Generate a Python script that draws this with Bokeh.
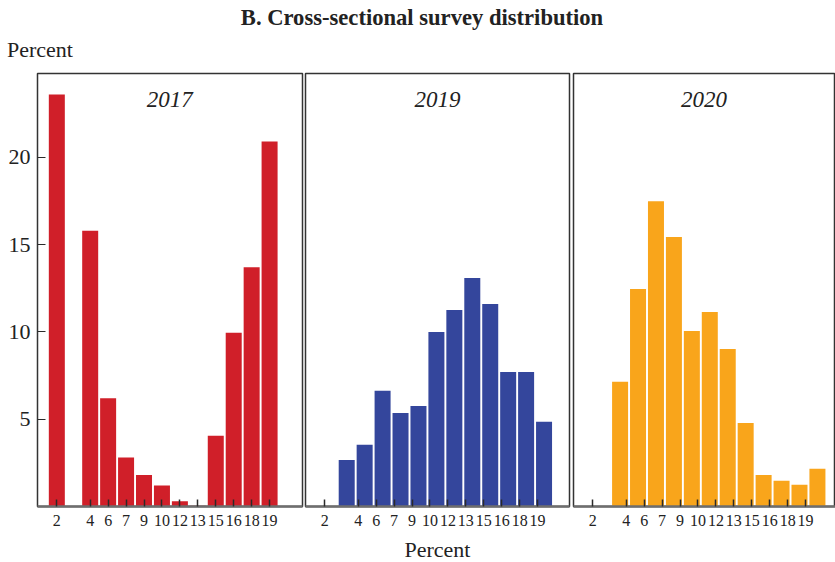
from bokeh.plotting import figure
from bokeh.models import Range1d, Label, CustomJSTickFormatter, FixedTicker
from bokeh.layouts import row, column
from bokeh.embed import file_html
from bokeh.resources import INLINE

# ---------------- data ----------------
tick_labels = ["2", "4", "6", "7", "9", "10", "12", "13", "15", "16", "18", "19"]
tick_pos = [-0.86, 1, 2, 3, 4, 5, 6, 7, 8, 9, 10, 11]

years = ["2017", "2019", "2020"]
colors = ["#D01F29", "#34469C", "#F9A51B"]

bins_2017 = [-0.86, 1, 2, 3, 4, 5, 6, 7, 8, 9, 10, 11]
share_2017 = [23.6, 15.8, 6.2, 2.8, 1.8, 1.2, 0.3, 0.05, 4.05, 9.95, 13.7, 20.9]

bins_2019 = [0.36, 1.36, 2.36, 3.36, 4.36, 5.36, 6.36, 7.36, 8.36, 9.36, 10.36, 11.36]
share_2019 = [2.67, 3.53, 6.63, 5.36, 5.76, 10.0, 11.26, 13.09, 11.6, 7.71, 7.71, 4.85]

bins_2020 = [0.66, 1.66, 2.66, 3.66, 4.66, 5.66, 6.66, 7.66, 8.66, 9.66, 10.66, 11.66]
share_2020 = [7.14, 12.46, 17.49, 15.43, 10.05, 11.14, 9.02, 4.78, 1.81, 1.47, 1.24, 2.16]

y_ticks = [5, 10, 15, 20]
title_text = "B. Cross-sectional survey distribution"
y_title = "Percent"
x_title = "Percent"

# ---------------- layout / style ----------------
FONT = "Liberation Serif"
PX = 17.94          # pixels per x unit
X0 = -1.937         # left edge of each panel in x units
FRAME_H = 433
Y_MAX = 24.8
BOTTOM = 28
HEADER_H = 72
FOOTER_H = 28
BAR_W = 0.892
INK = "#222222"

def make_panel(year, bins, vals, color, width, mbl, mbr, show_y, label_cx):
    frame_w = width - mbl - mbr
    p = figure(width=width, height=1 + FRAME_H + BOTTOM,
               x_range=Range1d(X0, X0 + frame_w / PX), y_range=Range1d(0, Y_MAX),
               min_border_left=mbl, min_border_right=mbr, min_border_top=1,
               min_border_bottom=BOTTOM, toolbar_location=None,
               output_backend="svg", y_axis_location="left" if show_y else None)
    p.vbar(x=bins, top=vals, width=BAR_W, bottom=0, fill_color=color, line_color=None)
    p.xgrid.visible = False
    p.ygrid.visible = False
    p.outline_line_color = "#333333"
    p.outline_line_width = 1.5
    p.background_fill_color = "white"
    p.border_fill_color = "white"

    xa = p.xaxis[0]
    xa.ticker = FixedTicker(ticks=tick_pos)
    xa.formatter = CustomJSTickFormatter(
        args=dict(labels=tick_labels, pos=tick_pos),
        code="const i = pos.findIndex(v => Math.abs(v - tick) < 1e-6); return i >= 0 ? labels[i] : '';")
    xa.major_tick_in = 7
    xa.major_tick_out = 0
    xa.minor_tick_line_color = None
    xa.major_tick_line_color = "#2a2a2a"
    xa.major_tick_line_width = 1.5
    xa.axis_line_color = "#6e6e6e"
    xa.axis_line_width = 2.5
    xa.major_label_text_font = FONT
    xa.major_label_text_font_size = "16px"
    xa.major_label_text_color = INK
    xa.major_label_standoff = 8

    if show_y:
        ya = p.yaxis[0]
        ya.ticker = FixedTicker(ticks=y_ticks)
        ya.major_tick_in = 8
        ya.major_tick_out = 0
        ya.minor_tick_line_color = None
        ya.major_tick_line_color = "#2a2a2a"
        ya.major_tick_line_width = 1.2
        ya.axis_line_color = None
        ya.major_label_text_font = FONT
        ya.major_label_text_font_size = "22px"
        ya.major_label_text_color = INK
        ya.major_label_standoff = 7

    p.add_layout(Label(x=label_cx, y=23.32, text=year, text_align="center",
                       text_baseline="alphabetic", text_font=FONT,
                       text_font_style="italic", text_font_size="23px",
                       text_color=INK))
    return p

p1 = make_panel(years[0], bins_2017, share_2017, colors[0], 304, 37, 2, True, 5.44)
p2 = make_panel(years[1], bins_2019, share_2019, colors[1], 267, 1, 2, False, 5.42)
p3 = make_panel(years[2], bins_2020, share_2020, colors[2], 264, 2, 0, False, 5.34)

TOTAL_W = 304 + 267 + 264

def text_strip(height):
    f = figure(width=TOTAL_W, height=height, x_range=Range1d(0, TOTAL_W),
               y_range=Range1d(height, 0), min_border=0, toolbar_location=None,
               output_backend="svg")
    f.axis.visible = False
    f.xgrid.visible = False
    f.ygrid.visible = False
    f.outline_line_color = None
    return f

header = text_strip(HEADER_H)
header.add_layout(Label(x=421.5, y=16.5, text=title_text, text_align="center",
                        text_baseline="alphabetic", text_font=FONT,
                        text_font_style="bold", text_font_size="22.6px",
                        text_color=INK))
header.add_layout(Label(x=6.5, y=48.5, text=y_title, text_align="left",
                        text_baseline="alphabetic", text_font=FONT,
                        text_font_size="22px", text_color=INK))

footer = text_strip(FOOTER_H)
footer.add_layout(Label(x=437, y=14.5, text=x_title, text_align="center",
                        text_baseline="alphabetic", text_font=FONT,
                        text_font_size="22px", text_color=INK))

layout = column(header, row(p1, p2, p3), footer)
open("out.html", "w").write(file_html(layout, INLINE))
